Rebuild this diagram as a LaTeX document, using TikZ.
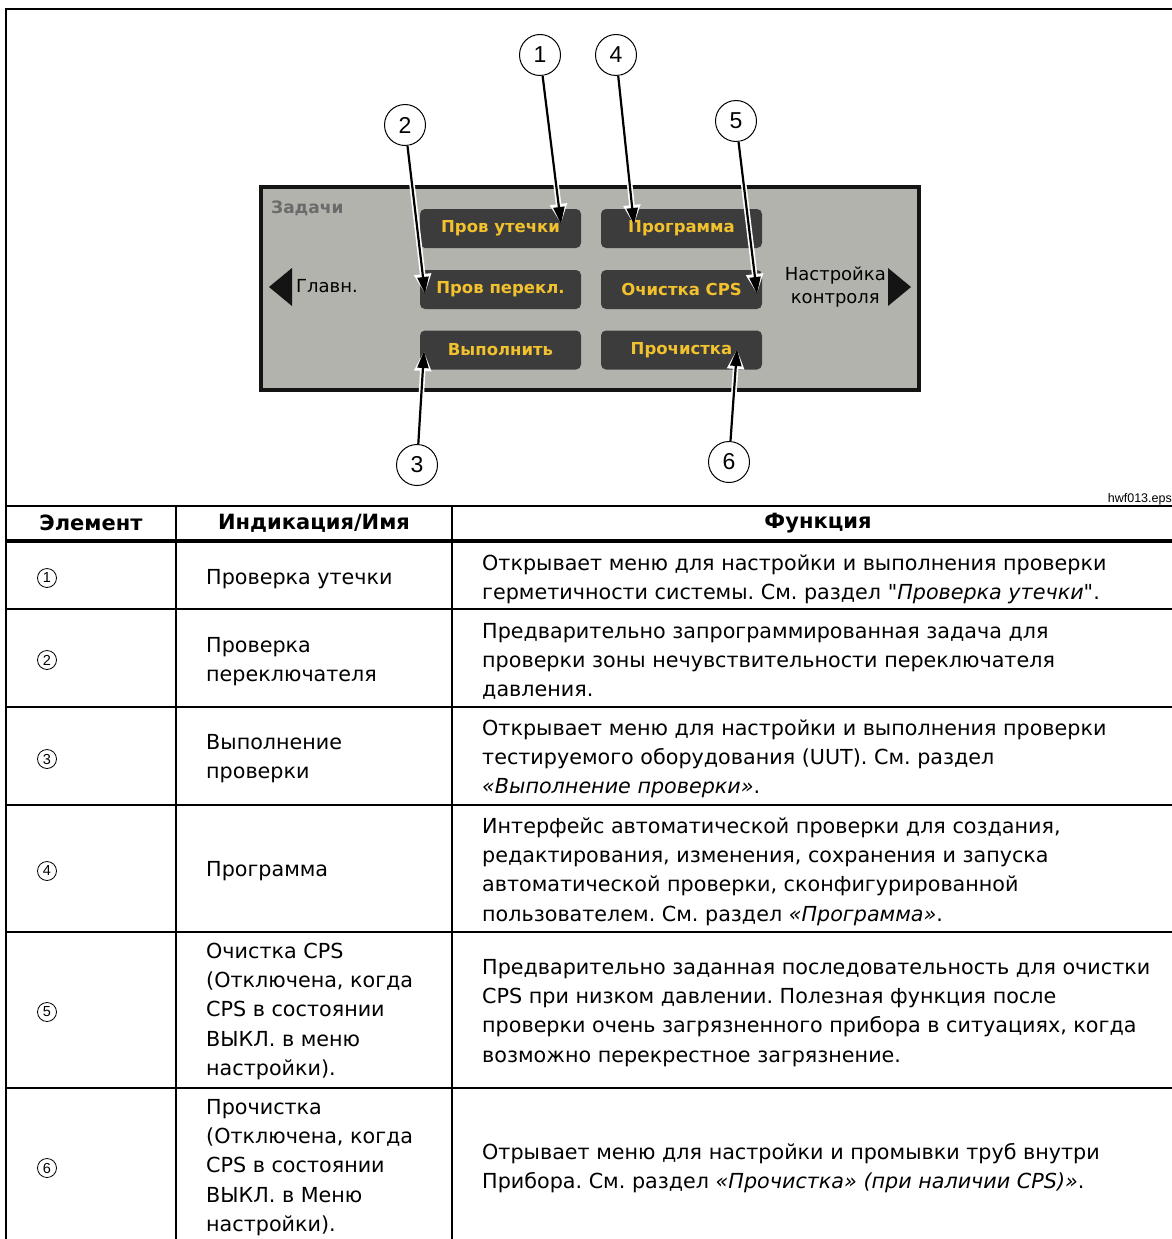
\documentclass[tikz,border=0pt]{standalone}
\usepackage{fontspec}
\setmainfont{DejaVu Sans}
\newfontfamily\arialf{Liberation Sans}
\newfontfamily\plainf[Ligatures=TeXOff]{DejaVu Sans}
\usetikzlibrary{arrows.meta}
\definecolor{panelfill}{HTML}{B3B3AE}
\definecolor{panelline}{HTML}{141414}
\definecolor{btnfill}{HTML}{3C3C3C}
\definecolor{btntext}{HTML}{F2C12E}
\definecolor{titlegray}{HTML}{6B6B6B}
\newcommand{\tfont}{\fontsize{20.7}{29.3}\selectfont}
\newcommand{\sq}{{\plainf\symbol{34}}}
\frenchspacing
\begin{document}
\begin{tikzpicture}[x=1pt,y=-1pt,
  frameline/.style={line width=2.5pt},
  btn/.style={fill=btnfill, rounded corners=5pt, minimum width=161pt, minimum height=39pt, inner sep=0pt,
    text=btntext, font=\fontsize{16.5}{19}\selectfont\bfseries},
  callout/.style={circle, draw, line width=1pt, fill=white, minimum size=41pt, inner sep=0pt,
    font=\arialf\fontsize{23}{23}\selectfont},
  ptr/.style={line width=2.2pt, -{Triangle[length=17pt,width=11pt]},
    preaction={draw=white, line width=5.5pt, -{Triangle[length=20pt,width=16pt]}}},
  cell/.style={anchor=north west, align=left, inner sep=0pt, font=\tfont},
  head/.style={anchor=center, inner sep=0pt, font=\fontsize{21}{24}\selectfont\bfseries},
  num/.style={circle, draw, line width=0.8pt, minimum size=19pt, inner sep=0pt,
    font=\arialf\fontsize{14.5}{14.5}\selectfont}
]
\useasboundingbox (0,0) rectangle (1172,1239);

% ---------- figure frame ----------
\draw[frameline] (6,1239) -- (6,9) -- (1172,9);
\draw[line width=2pt] (6,506) -- (1172,506);
\node[anchor=base east, inner sep=0pt, font=\arialf\fontsize{12.5}{13}\selectfont] (fname) at (1172,502) {hwf013.eps};

% ---------- screen panel ----------
\node[draw=panelline, fill=panelfill, line width=4pt, minimum width=658pt, minimum height=203pt, inner sep=0pt] (panel) at (590,288.5) {};
\node[anchor=west, inner sep=0pt, text=titlegray, font=\fontsize{17}{20}\selectfont\bfseries] (title) at (271,208) {Задачи};
\node[btn] (b1) at (500.5,228.5) {Пров утечки};
\node[btn] (b4) at (681.5,228.5) {Программа};
\node[btn] (b2) at (500.5,289.5) {Пров перекл.};
\node[btn] (b5) at (681.5,289.5) {Очистка CPS};
\node[btn] (b3) at (500.5,350) {Выполнить};
\node[btn] (b6) at (681.5,350) {Прочистка};
\fill[panelline] (269,287) -- (292,268) -- (292,306) -- cycle;
\node[anchor=west, inner sep=0pt, font=\fontsize{18}{20}\selectfont] (home) at (296,286) {Главн.};
\fill[panelline] (911,287) -- (888,268) -- (888,306) -- cycle;
\node[anchor=east, align=center, inner sep=0pt, font=\fontsize{18}{23}\selectfont] (setup) at (886,287) {Настройка\\контроля};

% ---------- callouts ----------
\node[callout] (c1) at (540,55) {1};
\node[callout] (c4) at (616,55) {4};
\node[callout] (c2) at (405,125) {2};
\node[callout] (c5) at (736,121) {5};
\node[callout] (c3) at (417,465) {3};
\node[callout] (c6) at (729,462) {6};
\coordinate (t1) at (561,224);
\coordinate (t4) at (634,225);
\coordinate (t2) at (425,294);
\coordinate (t5) at (757,294);
\coordinate (t3) at (424,351);
\coordinate (t6) at (737,349);
\draw[ptr] (c1) -- (t1);
\draw[ptr] (c4) -- (t4);
\draw[ptr] (c2) -- (t2);
\draw[ptr] (c5) -- (t5);
\draw[ptr] (c3) -- (t3);
\draw[ptr] (c6) -- (t6);

% ---------- table grid ----------
\draw[line width=2.5pt] (176,506) -- (176,1239);
\draw[line width=2.5pt] (452,506) -- (452,1239);
\draw[line width=4pt] (6,541) -- (1172,541);
\foreach \yy in {609,707,805,932,1088} \draw[line width=2.2pt] (6,\yy) -- (1172,\yy);

% ---------- header ----------
\node[head] (h1) at (91,523) {Элемент};
\node[head] (h2) at (314,523) {Индикация/Имя};
\node[head] (h3) at (818,523) {Функция};

% ---------- rows ----------
\node[num] (n1) at (47,578) {1};
\node[num] (n2) at (47,660) {2};
\node[num] (n3) at (47,759) {3};
\node[num] (n4) at (47,871) {4};
\node[num] (n5) at (47,1012) {5};
\node[num] (n6) at (47,1168) {6};

\node[cell] (i1) at (206,563.5) {\strut Проверка утечки};
\node[cell] (i2) at (206,631.5) {\strut Проверка\\переключателя};
\node[cell] (i3) at (206,728.5) {\strut Выполнение\\проверки};
\node[cell] (i4) at (206,855.5) {\strut Программа};
\node[cell] (i5) at (206,937.5) {\strut Очистка CPS\\(Отключена, когда\\CPS в состоянии\\ВЫКЛ. в меню\\настройки).};
\node[cell] (i6) at (206,1093.5) {\strut Прочистка\\(Отключена, когда\\CPS в состоянии\\ВЫКЛ. в Меню\\настройки).};

\node[cell] (f1) at (482,549.5) {\strut Открывает меню для настройки и выполнения проверки\\герметичности системы. См. раздел \sq\textit{Проверка утечки}\sq.};
\node[cell] (f2) at (482,617.5) {\strut Предварительно запрограммированная задача для\\проверки зоны нечувствительности переключателя\\давления.};
\node[cell] (f3) at (482,714.5) {\strut Открывает меню для настройки и выполнения проверки\\тестируемого оборудования (UUT). См. раздел\\\textit{«Выполнение проверки»}.};
\node[cell] (f4) at (482,812.5) {\strut Интерфейс автоматической проверки для создания,\\редактирования, изменения, сохранения и запуска\\автоматической проверки, сконфигурированной\\пользователем. См. раздел \textit{«Программа»}.};
\node[cell] (f5) at (482,953.5) {\strut Предварительно заданная последовательность для очистки\\CPS при низком давлении. Полезная функция после\\проверки очень загрязненного прибора в ситуациях, когда\\возможно перекрестное загрязнение.};
\node[cell] (f6) at (482,1138.5) {\strut Отрывает меню для настройки и промывки труб внутри\\Прибора. См. раздел \textit{«Прочистка» (при наличии CPS)»}.};
\end{tikzpicture}
\end{document}
